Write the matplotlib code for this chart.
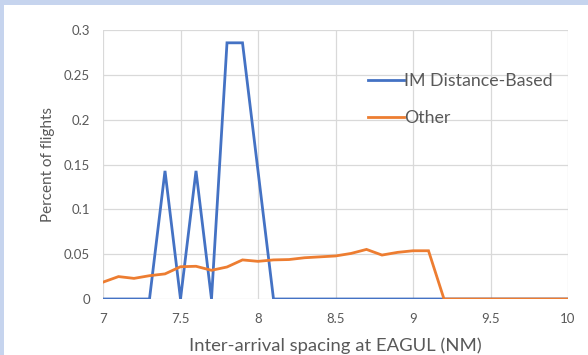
import numpy as np
import matplotlib
matplotlib.use("Agg")
import matplotlib.pyplot as plt
from matplotlib.patches import Rectangle

# Inter-arrival spacing bins (NM)
spacing = [7.0, 7.1, 7.2, 7.3, 7.4, 7.5, 7.6, 7.7, 7.8, 7.9, 8.0,
           8.1, 8.2, 8.3, 8.4, 8.5, 8.6, 8.7, 8.8, 8.9, 9.0,
           9.1, 9.2, 9.3, 9.4, 9.5, 9.6, 9.7, 9.8, 9.9, 10.0]

im_distance_based = [0, 0, 0, 0, 0.1429, 0, 0.1429, 0, 0.2857, 0.2857, 0.1429,
                     0, 0, 0, 0, 0, 0, 0, 0, 0, 0,
                     0, 0, 0, 0, 0, 0, 0, 0, 0, 0]

other = [0.0188, 0.025, 0.023, 0.026, 0.028, 0.036, 0.0365, 0.032, 0.0357, 0.0436, 0.042,
         0.0436, 0.044, 0.046, 0.047, 0.048, 0.0508, 0.0553, 0.049, 0.052, 0.0538,
         0.0538, 0, 0, 0, 0, 0, 0, 0, 0, 0]

x_ticks = [7, 7.5, 8, 8.5, 9, 9.5, 10]
x_tick_labels = ["7", "7.5", "8", "8.5", "9", "9.5", "10"]
y_ticks = [0, 0.05, 0.1, 0.15, 0.2, 0.25, 0.3]
y_tick_labels = ["0", "0.05", "0.1", "0.15", "0.2", "0.25", "0.3"]

plt.rcParams['font.family'] = ['Lato', 'DejaVu Sans']

W, H = 588, 355
fig = plt.figure(figsize=(W / 100, H / 100), dpi=100)
fig.patch.set_facecolor("white")

# window frame strips along the top and left edges
fig.add_artist(Rectangle((0, 1 - 5 / H), 1, 5 / H, transform=fig.transFigure,
                         facecolor="#c6d4ee", edgecolor="none", zorder=0))
fig.add_artist(Rectangle((0, 0), 4 / W, 1, transform=fig.transFigure,
                         facecolor="#c6d4ee", edgecolor="none", zorder=0))

left, right, top, bottom = 103, 568, 30, 299
ax = fig.add_axes([left / W, 1 - bottom / H, (right - left) / W, (bottom - top) / H])

ax.plot(spacing, im_distance_based, color="#4472c4", lw=2.0, label="IM Distance-Based",
        solid_joinstyle="miter", zorder=3)
ax.plot(spacing, other, color="#ed7d31", lw=2.0, label="Other",
        solid_joinstyle="miter", zorder=4)

ax.set_xlim(7, 10)
ax.set_ylim(0, 0.3)
ax.set_xticks(x_ticks)
ax.set_xticklabels(x_tick_labels)
ax.set_yticks(y_ticks)
ax.set_yticklabels(y_tick_labels)
ax.tick_params(length=0, labelsize=9.5, labelcolor="#595959")
ax.tick_params(axis="x", pad=10)
ax.tick_params(axis="y", pad=9.5)
ax.grid(True, color="#d9d9d9", lw=0.9)
ax.set_axisbelow(True)
for s in ax.spines.values():
    s.set_visible(False)

ax.set_xlabel("Inter-arrival spacing at EAGUL (NM)", fontsize=13.3, color="#595959", labelpad=9)
ax.set_ylabel("Percent of flights", fontsize=11, color="#595959", labelpad=6)

leg = ax.legend(loc="upper left", bbox_to_anchor=(0.555, 0.865), frameon=False,
                handlelength=2.0, handletextpad=0.0, labelspacing=1.15,
                fontsize=12.8, borderaxespad=0)
for t in leg.get_texts():
    t.set_color("#595959")

fig.savefig("out.png", dpi=100)
